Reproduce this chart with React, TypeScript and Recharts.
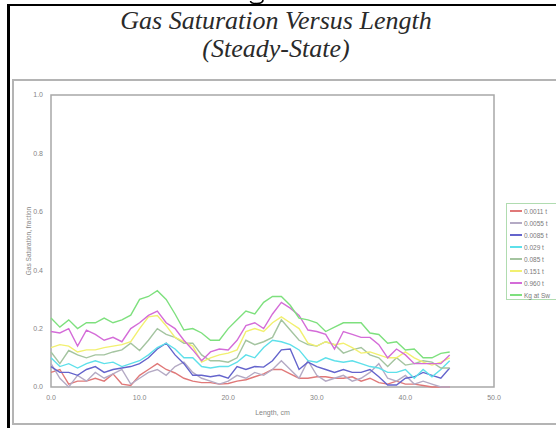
import { LineChart, Line, XAxis, YAxis, ReferenceArea } from 'recharts';

/** Steady-state gas saturation profiles along the core length. */

const lengths = [
  0, 1, 2, 3, 4, 5, 6, 7, 8, 9, 10, 11, 12, 13, 14, 15, 16, 17, 18, 19, 20, 21, 22,
  23, 24, 25, 26, 27, 28, 29, 30, 31, 32, 33, 34, 35, 36, 37, 38, 39, 40, 41, 42, 43, 44, 45,
];

const sg0011 = [
  0.05, 0.06, 0.01, 0.02, 0.02, 0.03, 0.02, 0.045, 0.01, 0.005, 0.04, 0.06, 0.08, 0.06, 0.048, 0.03,
  0.02, 0.015, 0.015, 0.01, 0.012, 0.02, 0.025, 0.035, 0.045, 0.06, 0.06, 0.045, 0.03, 0.03, 0.035,
  0.035, 0.03, 0.03, 0.035, 0.02, 0.03, 0.015, 0.01, 0.02, 0.01, 0.01, 0.005, 0, 0, 0,
];
const sg0055 = [
  0.08, 0.03, 0.0, 0.04, 0.02, 0.05, 0.03, 0.045, 0.06, 0.01, 0.03, 0.05, 0.06, 0.04, 0.07, 0.085,
  0.05, 0.03, 0.02, 0.01, 0.02, 0.04, 0.03, 0.05, 0.04, 0.06, 0.09, 0.06, 0.03, 0.09, 0.04, 0.02,
  0.03, 0.04, 0.02, 0.03, 0.05, 0.08, 0.03, 0.02, 0.04, 0.01, 0.02, 0.01, 0, 0,
];
const sg0085 = [
  0.07, 0.05, 0.05, 0.04, 0.06, 0.07, 0.05, 0.06, 0.065, 0.07, 0.08, 0.1, 0.13, 0.15, 0.11, 0.08,
  0.04, 0.04, 0.035, 0.04, 0.03, 0.07, 0.06, 0.07, 0.068, 0.09, 0.127, 0.13, 0.06, 0.085, 0.07, 0.06,
  0.05, 0.06, 0.05, 0.05, 0.06, 0.035, 0.007, 0.007, 0.03, 0.035, 0.05, 0.04, 0.03, 0.065,
];
const sg029 = [
  0.1, 0.07, 0.08, 0.065, 0.08, 0.09, 0.08, 0.085, 0.07, 0.08, 0.09, 0.11, 0.135, 0.15, 0.13, 0.1,
  0.1, 0.07, 0.065, 0.07, 0.07, 0.085, 0.11, 0.1, 0.135, 0.16, 0.155, 0.145, 0.127, 0.09, 0.085, 0.1,
  0.09, 0.085, 0.09, 0.08, 0.07, 0.065, 0.05, 0.05, 0.06, 0.03, 0.06, 0.035, 0.06, 0.09,
];
const sg085 = [
  0.12, 0.08, 0.125, 0.11, 0.1, 0.11, 0.11, 0.12, 0.127, 0.15, 0.125, 0.16, 0.2, 0.18, 0.17, 0.15,
  0.15, 0.11, 0.09, 0.09, 0.085, 0.1, 0.16, 0.145, 0.155, 0.17, 0.23, 0.195, 0.16, 0.145, 0.14, 0.155,
  0.145, 0.116, 0.127, 0.135, 0.11, 0.1, 0.07, 0.1, 0.075, 0.08, 0.09, 0.085, 0.065, 0.065,
];
const sg151 = [
  0.135, 0.145, 0.14, 0.12, 0.127, 0.127, 0.135, 0.14, 0.145, 0.155, 0.2, 0.24, 0.245, 0.21, 0.17,
  0.155, 0.14, 0.085, 0.1, 0.11, 0.116, 0.127, 0.19, 0.2, 0.19, 0.22, 0.24, 0.22, 0.2, 0.15, 0.14,
  0.155, 0.145, 0.15, 0.135, 0.116, 0.12, 0.11, 0.1, 0.1, 0.12, 0.1, 0.085, 0.075, 0.085, 0.1,
];
const sg960 = [
  0.19, 0.185, 0.2, 0.14, 0.195, 0.18, 0.16, 0.17, 0.155, 0.2, 0.22, 0.245, 0.26, 0.22, 0.2, 0.16,
  0.127, 0.09, 0.12, 0.13, 0.127, 0.16, 0.21, 0.22, 0.2, 0.25, 0.29, 0.27, 0.245, 0.195, 0.19, 0.18,
  0.13, 0.19, 0.18, 0.17, 0.17, 0.145, 0.1, 0.13, 0.11, 0.08, 0.08, 0.08, 0.08, 0.11,
];
const sgKg = [
  0.236, 0.205, 0.23, 0.2, 0.22, 0.22, 0.236, 0.22, 0.23, 0.246, 0.3, 0.31, 0.33, 0.3, 0.25, 0.195,
  0.2, 0.185, 0.16, 0.16, 0.2, 0.23, 0.26, 0.25, 0.29, 0.31, 0.31, 0.28, 0.236, 0.23, 0.22, 0.19,
  0.205, 0.22, 0.22, 0.22, 0.185, 0.18, 0.15, 0.155, 0.127, 0.13, 0.1, 0.1, 0.115, 0.12,
];

const seriesNames = ['0.0011 t', '0.0055 t', '0.0085 t', '0.029 t', '0.085 t', '0.151 t', '0.960 t', 'Kg at Sw'];
const seriesValues = [sg0011, sg0055, sg0085, sg029, sg085, sg151, sg960, sgKg];
const seriesColors = ['#e07878', '#b4aac4', '#6464cc', '#5ee0ea', '#a4c4a0', '#f2f070', '#d46cd8', '#7ee07e'];

const xTicks = [0, 10, 20, 30, 40, 50];
const yTicks = [0, 0.2, 0.4, 0.6, 0.8, 1.0];

const rows = lengths.map((x, i) => {
  const row: Record<string, number> = { x };
  seriesValues.forEach((vals, s) => {
    row['s' + s] = vals[i];
  });
  return row;
});

const tickStyle = { fontSize: 7, fill: '#858585', fontFamily: 'Liberation Sans, Arial, sans-serif' };

function YTitle({ viewBox }: any) {
  const cx = viewBox.x + 17;
  const cy = viewBox.y + viewBox.height / 2;
  return (
    <text
      x={cx}
      y={cy}
      transform={`rotate(-90, ${cx}, ${cy})`}
      textAnchor="middle"
      dominantBaseline="central"
      style={{ ...tickStyle, fontSize: 6.5 }}
    >
      Gas Saturation, fraction
    </text>
  );
}

function XTitle({ viewBox }: any) {
  return (
    <text
      x={viewBox.x + viewBox.width / 2}
      y={viewBox.y + 25}
      textAnchor="middle"
      dominantBaseline="central"
      style={tickStyle}
    >
      Length, cm
    </text>
  );
}

export default function App() {
  return (
    <div
      style={{
        position: 'absolute',
        left: 0,
        top: 0,
        width: 556,
        height: 428,
        overflow: 'hidden',
        background: '#fff',
      }}
    >
      {/* descender poking in above the frame */}
      <svg width={556} height={10} style={{ position: 'absolute', left: 0, top: 0 }}>
        <path d="M263 0 C263 4.5 251 4.5 250.5 1" fill="none" stroke="#000" strokeWidth={1.6} />
      </svg>

      {/* outer black frame */}
      <div
        style={{
          position: 'absolute',
          left: 7,
          top: 4,
          width: 600,
          height: 500,
          borderLeft: '3px solid #000',
          borderTop: '2px solid #000',
        }}
      />

      <div
        style={{
          position: 'absolute',
          left: 0,
          top: 7,
          width: 552,
          textAlign: 'center',
          fontFamily: 'Liberation Serif, "Times New Roman", serif',
          fontStyle: 'italic',
          fontSize: 26,
          lineHeight: '28px',
          color: '#2a2a2a',
        }}
      >
        <div>Gas Saturation Versus Length</div>
        <div>(Steady-State)</div>
      </div>

      {/* gray chart area frame */}
      <div
        style={{
          position: 'absolute',
          left: 12,
          top: 79,
          width: 600,
          height: 342,
          border: '2px solid #b4b4b4',
        }}
      />

      <LineChart
        width={556}
        height={428}
        data={rows}
        margin={{ top: 95, right: 62, bottom: 11, left: 11 }}
        style={{ position: 'absolute', left: 0, top: 0 }}
      >
        <XAxis
          dataKey="x"
          type="number"
          domain={[0, 50]}
          ticks={xTicks}
          tickFormatter={(v: number) => v.toFixed(1)}
          tickLine={false}
          axisLine={false}
          height={30}
          tick={tickStyle}
          label={XTitle}
        />
        <YAxis
          type="number"
          domain={[0, 1]}
          ticks={yTicks}
          tickFormatter={(v: number) => v.toFixed(1)}
          tickLine={false}
          axisLine={false}
          width={40}
          tick={tickStyle}
          label={YTitle}
        />
        <ReferenceArea
          x1={0}
          x2={50}
          y1={0}
          y2={1}
          fill="none"
          stroke="#a8a8a8"
          strokeWidth={1.5}
          ifOverflow="visible"
        />
        {seriesNames.map((name, s) => (
          <Line
            key={name}
            name={name}
            dataKey={'s' + s}
            type="linear"
            stroke={seriesColors[s]}
            strokeWidth={1.4}
            dot={false}
            isAnimationActive={false}
          />
        ))}
      </LineChart>

      {/* legend */}
      <div
        style={{
          position: 'absolute',
          left: 506,
          top: 203,
          width: 90,
          height: 97,
          border: '1px solid #b0dcb0',
          paddingTop: 1,
          boxSizing: 'border-box',
        }}
      >
        {seriesNames.map((name, s) => (
          <div key={name} style={{ display: 'flex', alignItems: 'center', height: 12 }}>
            <div style={{ width: 12, height: 1.5, marginLeft: 3, background: seriesColors[s] }} />
            <span
              style={{
                marginLeft: 2,
                fontSize: 6.5,
                color: '#7a7a7a',
                fontFamily: 'Liberation Sans, Arial, sans-serif',
                whiteSpace: 'nowrap',
              }}
            >
              {name}
            </span>
          </div>
        ))}
      </div>
    </div>
  );
}
